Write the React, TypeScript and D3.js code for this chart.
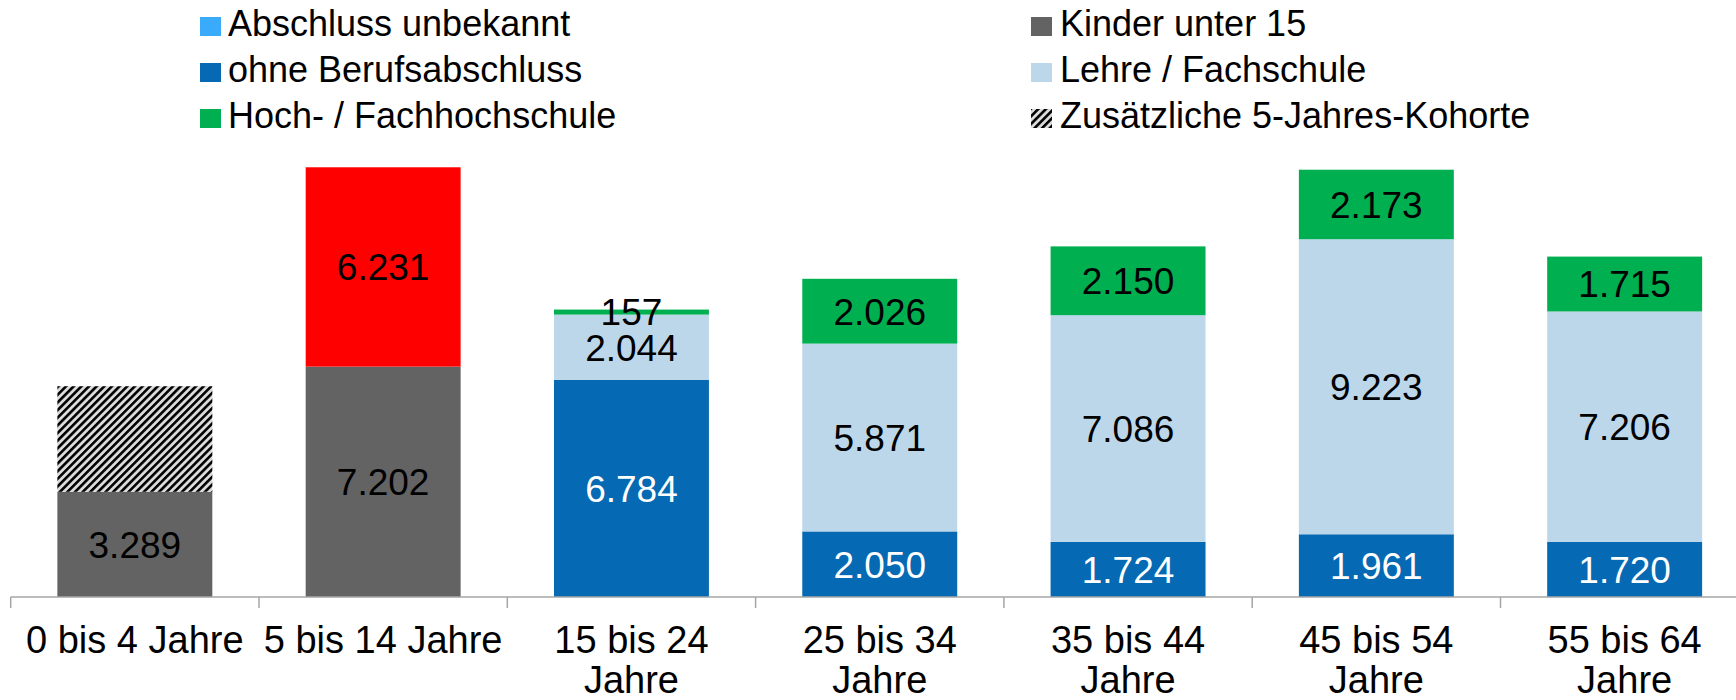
import React from "react";
import * as d3 from "d3";

const categories = ["0 bis 4 Jahre", "5 bis 14 Jahre", "15 bis 24 Jahre", "25 bis 34 Jahre", "35 bis 44 Jahre", "45 bis 54 Jahre", "55 bis 64 Jahre"];
const categoryLines = [["0 bis 4 Jahre"], ["5 bis 14 Jahre"], ["15 bis 24", "Jahre"], ["25 bis 34", "Jahre"], ["35 bis 44", "Jahre"], ["45 bis 54", "Jahre"], ["55 bis 64", "Jahre"]];

const kinderUnter15 = [3289, 7202, 0, 0, 0, 0, 0];
const ohneBerufsabschluss = [0, 0, 6784, 2050, 1724, 1961, 1720];
const lehreFachschule = [0, 0, 2044, 5871, 7086, 9223, 7206];
const hochschule = [0, 0, 157, 2026, 2150, 2173, 1715];
const zusatzKohorte = [3300, 0, 0, 0, 0, 0, 0];
const redSegment = [0, 6231, 0, 0, 0, 0, 0];
const abschlussUnbekannt = [0, 0, 0, 0, 0, 0, 0];

const seriesKeys = ["kinder", "ohne", "lehre", "hoch", "zusatz", "red", "unbekannt"];
const seriesValues: Record<string, number[]> = {
  kinder: kinderUnter15,
  ohne: ohneBerufsabschluss,
  lehre: lehreFachschule,
  hoch: hochschule,
  zusatz: zusatzKohorte,
  red: redSegment,
  unbekannt: abschlussUnbekannt,
};
const seriesFill: Record<string, string> = {
  kinder: "#636363",
  ohne: "#0569B3",
  lehre: "#BDD7EA",
  hoch: "#00AF50",
  zusatz: "url(#hatch)",
  red: "#FF0000",
  unbekannt: "#3AABFA",
};
const seriesLabelColor: Record<string, string> = {
  kinder: "#000",
  ohne: "#fff",
  lehre: "#000",
  hoch: "#000",
  zusatz: "#000",
  red: "#000",
  unbekannt: "#000",
};
const showLabel: Record<string, boolean> = {
  kinder: true, ohne: true, lehre: true, hoch: true, zusatz: false, red: true, unbekannt: false,
};

const legendLeft = [
  { label: "Abschluss unbekannt", key: "unbekannt" },
  { label: "ohne Berufsabschluss", key: "ohne" },
  { label: "Hoch- / Fachhochschule", key: "hoch" },
];
const legendRight = [
  { label: "Kinder unter 15", key: "kinder" },
  { label: "Lehre / Fachschule", key: "lehre" },
  { label: "Zusätzliche 5-Jahres-Kohorte", key: "zusatz" },
];

const fmt = (v: number) => d3.format(",")(v).replace(/,/g, ".");

export default function App() {
  const W = 1736, H = 700;
  const axisY = 597;
  const x = d3.scaleBand<string>().domain(categories).range([10.7, 1748.8]).paddingInner(0.376).paddingOuter(0.188);
  const y = d3.scaleLinear().domain([0, 14000]).range([axisY, axisY - 14000 * 0.03199]);

  const rows = categories.map((c, i) => {
    const r: any = { cat: c };
    seriesKeys.forEach((k) => (r[k] = seriesValues[k][i]));
    return r;
  });
  const stack = d3.stack<any>().keys(seriesKeys)(rows);

  const font = "'Liberation Sans', Arial, sans-serif";
  const step = x.step();
  const x0 = 10.7;
  const tickXs = d3.range(categories.length + 1).map((i) => x0 + i * step);

  const legendBaselines = [36, 82, 128];

  return (
    <svg width={W} height={H} style={{ position: "absolute", left: 0, top: 0, background: "#fff" }} fontFamily={font}>
      <defs>
        <pattern id="hatch" patternUnits="userSpaceOnUse" width="5.4" height="5.4" patternTransform="rotate(45)">
          <rect width="5.4" height="5.4" fill="#DCDCDC" />
          <rect width="2.6" height="5.4" fill="#000" />
        </pattern>
      </defs>
      {/* legend */}
      {legendLeft.map((d, i) => (
        <g key={d.key}>
          <rect x={200} y={legendBaselines[i] - 19} width={21} height={19} fill={seriesFill[d.key]} />
          <text x={228} y={legendBaselines[i]} fontSize={36} fill="#000">{d.label}</text>
        </g>
      ))}
      {legendRight.map((d, i) => (
        <g key={d.key}>
          <rect x={1031} y={legendBaselines[i] - 19} width={21} height={19} fill={seriesFill[d.key]} />
          <text x={1060} y={legendBaselines[i]} fontSize={36} fill="#000">{d.label}</text>
        </g>
      ))}
      {/* bars */}
      {stack.map((s) => (
        <g key={s.key}>
          {s.map((seg, i) => {
            const v = seg[1] - seg[0];
            if (v <= 0) return null;
            return (
              <rect key={i} x={x(categories[i])} y={y(seg[1])} width={x.bandwidth()} height={y(seg[0]) - y(seg[1])} fill={seriesFill[s.key]} />
            );
          })}
        </g>
      ))}
      {/* labels */}
      {stack.map((s) => (
        <g key={"l" + s.key}>
          {s.map((seg, i) => {
            const v = seg[1] - seg[0];
            if (v <= 0 || !showLabel[s.key]) return null;
            return (
              <text key={i} x={(x(categories[i]) as number) + x.bandwidth() / 2} y={(y(seg[0]) + y(seg[1])) / 2} dy="0.36em" textAnchor="middle" fontSize={37} fill={seriesLabelColor[s.key]}>
                {fmt(v)}
              </text>
            );
          })}
        </g>
      ))}
      {/* axis */}
      <line x1={x0} x2={W} y1={axisY} y2={axisY} stroke="#A6A6A6" strokeWidth={1.5} />
      {tickXs.map((tx, i) => (
        <line key={i} x1={tx} x2={tx} y1={axisY} y2={axisY + 11} stroke="#A6A6A6" strokeWidth={1.5} />
      ))}
      {categoryLines.map((lines, i) => (
        <text key={i} textAnchor="middle" fontSize={38} fill="#000">
          {lines.map((ln, j) => (
            <tspan key={j} x={(x(categories[i]) as number) + x.bandwidth() / 2} y={653 + j * 40}>{ln}</tspan>
          ))}
        </text>
      ))}
    </svg>
  );
}
